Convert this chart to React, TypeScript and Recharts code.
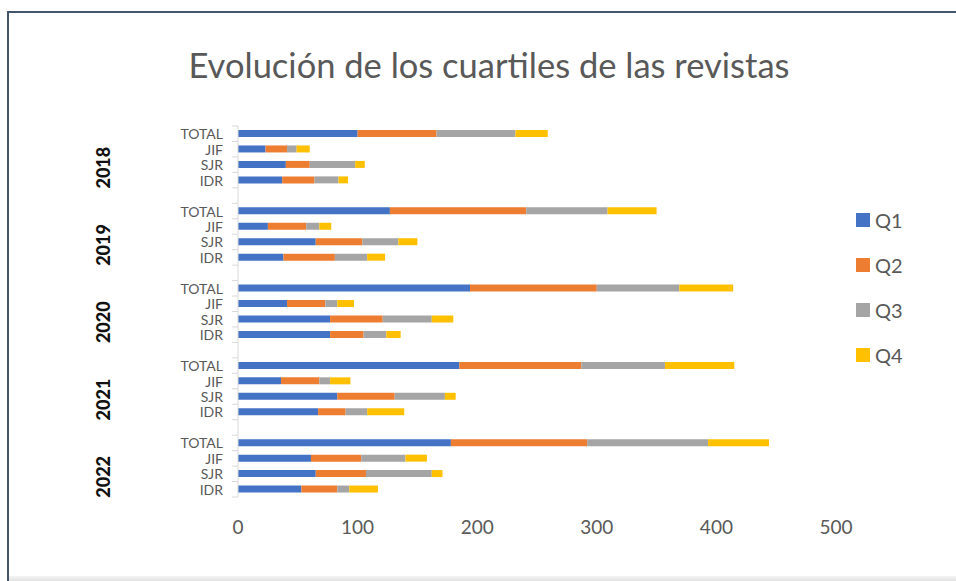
import { Bar, BarChart, XAxis, YAxis } from "recharts"

const years = ["2018", "2019", "2020", "2021", "2022"]
const measures = ["TOTAL", "JIF", "SJR", "IDR"]
const series = ["Q1", "Q2", "Q3", "Q4"]
const colors = ["#4472C4", "#ED7D31", "#A5A5A5", "#FFC000"]
const xTicks = [0, 100, 200, 300, 400, 500]

// per year: TOTAL, JIF, SJR, IDR
const q1 = [[100, 23, 40, 37], [127, 25, 65, 38], [194, 41, 77, 77], [185, 36, 83, 67], [178, 61, 65, 53]]
const q2 = [[66, 18, 20, 27], [114, 32, 39, 43], [106, 32, 44, 28], [102, 32, 48, 23], [114, 42, 42, 30]]
const q3 = [[66, 8, 38, 20], [68, 11, 30, 27], [69, 10, 41, 19], [70, 9, 42, 18], [101, 37, 55, 10]]
const q4 = [[27, 11, 8, 8], [41, 10, 16, 15], [45, 14, 18, 12], [58, 17, 9, 31], [51, 18, 9, 24]]

type Row = { key: string; label: string; year: string; Q1?: number; Q2?: number; Q3?: number; Q4?: number }

const rows: Row[] = []
years.forEach((year, yi) => {
  measures.forEach((m, mi) => {
    rows.push({ key: `${year}-${m}`, label: m, year, Q1: q1[yi][mi], Q2: q2[yi][mi], Q3: q3[yi][mi], Q4: q4[yi][mi] })
  })
  if (yi < years.length - 1) rows.push({ key: `gap-${yi}`, label: "", year: "" })
})

const W = 956
const H = 581
const PLOT_LEFT = 238
const PLOT_RIGHT = 836
const PLOT_TOP = 126
const PLOT_BOTTOM = 497
const ROW_H = (PLOT_BOTTOM - PLOT_TOP) / rows.length
const FONT = "Lato, 'Open Sans', sans-serif"

function CategoryTick(props: any) {
  const { y, payload, index } = props
  const row = rows.find((r) => r.key === payload.value)
  const last = index === rows.length - 1
  return (
    <g>
      <line x1={PLOT_LEFT - 6} x2={PLOT_LEFT} y1={y - ROW_H / 2} y2={y - ROW_H / 2} stroke="#d9d9d9" />
      {last && <line x1={PLOT_LEFT - 6} x2={PLOT_LEFT} y1={y + ROW_H / 2} y2={y + ROW_H / 2} stroke="#d9d9d9" />}
      <text x={223} y={y} textAnchor="end" dominantBaseline="central" fontSize={14} fill="#595959" fontFamily={FONT}>
        {row?.label}
      </text>
      {row?.label === "SJR" && (
        <text
          x={103}
          y={y + 3}
          transform={`rotate(-90, 103, ${y + 3})`}
          textAnchor="middle"
          dominantBaseline="central"
          fontSize={18}
          fontWeight={900}
          fill="#111"
          fontFamily={FONT}
        >
          {row.year}
        </text>
      )}
    </g>
  )
}

function LegendBox() {
  return (
    <div style={{ position: "absolute", left: 856, top: 197, fontFamily: FONT }}>
      {series.map((s, i) => (
        <div key={s} style={{ display: "flex", alignItems: "center", height: 45 }}>
          <span style={{ width: 14, height: 14, background: colors[i], display: "inline-block", marginRight: 5 }} />
          <span style={{ fontSize: 20, color: "#595959" }}>{s}</span>
        </div>
      ))}
    </div>
  )
}

export default function App() {
  return (
    <div style={{ position: "absolute", left: 0, top: 0, width: W, height: H, background: "#fff", overflow: "hidden" }}>
      <div
        style={{
          position: "absolute",
          left: 7,
          top: 11,
          width: W,
          height: H,
          borderTop: "2px solid #44546A",
          borderLeft: "2px solid #44546A",
        }}
      />
      <div
        style={{
          position: "absolute",
          left: 9,
          right: 0,
          bottom: 0,
          height: 5,
          background: "linear-gradient(#f4f4f4, #e2e2e2)",
        }}
      />
      <div
        style={{
          position: "absolute",
          left: 0,
          width: 978,
          top: 44,
          textAlign: "center",
          fontFamily: FONT,
          fontSize: 34.5,
          color: "#595959",
        }}
      >
        Evolución de los cuartiles de las revistas
      </div>
      <div style={{ position: "absolute", left: 0, top: 0 }}>
        <BarChart
          width={W}
          height={H}
          data={rows}
          layout="vertical"
          barSize={7}
          margin={{ top: PLOT_TOP, right: W - PLOT_RIGHT, bottom: H - PLOT_BOTTOM - 40, left: 0 }}
        >
          <XAxis
            type="number"
            domain={[0, 500]}
            ticks={xTicks}
            axisLine={false}
            tickLine={false}
            height={40}
            tickMargin={18}
            tick={{ fontSize: 19, fill: "#595959", fontFamily: FONT }}
          />
          <YAxis
            type="category"
            dataKey="key"
            width={PLOT_LEFT}
            interval={0}
            tickLine={false}
            axisLine={{ stroke: "#d9d9d9" }}
            tick={<CategoryTick />}
          />
          {series.map((s, i) => (
            <Bar key={s} dataKey={s} stackId="a" fill={colors[i]} isAnimationActive={false} />
          ))}
        </BarChart>
      </div>
      <LegendBox />
    </div>
  )
}
